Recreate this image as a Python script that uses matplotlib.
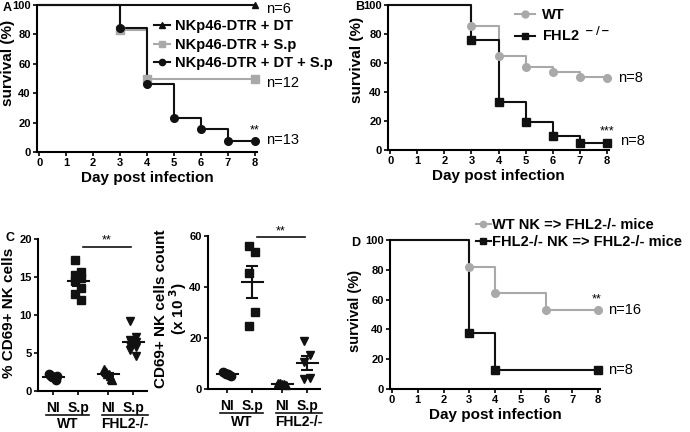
import matplotlib
matplotlib.use("Agg")
import numpy as np
import matplotlib.pyplot as plt
from matplotlib.lines import Line2D

plt.rcParams['font.family'] = ['Liberation Sans', 'DejaVu Sans']
plt.rcParams['font.weight'] = 'bold'

GRAY = "#a9a9a9"
BLACK = "#111111"

# ---- data ----
days = [0, 1, 2, 3, 4, 5, 6, 7, 8]

# panel A
a_dt_days = [0, 8]
a_dt_surv = [100, 100]
a_sp_days = [0, 3, 4, 8]
a_sp_surv = [100, 83.3, 50, 50]
a_dtsp_days = [0, 3, 4, 5, 6, 7, 8]
a_dtsp_surv = [100, 84.6, 46.2, 23.1, 15.4, 7.7, 7.7]

# panel B
b_wt_days = [0, 3, 4, 5, 6, 7, 8]
b_wt_surv = [100, 85.7, 64.5, 57, 53.5, 50.5, 50]
b_ko_days = [0, 3, 4, 5, 6, 7, 8]
b_ko_surv = [100, 76, 33, 19, 9.5, 5, 5]

# panel D
d_wt_days = [0, 3, 4, 6, 8]
d_wt_surv = [100, 82, 64.5, 53, 53]
d_ko_days = [0, 3, 4, 8]
d_ko_surv = [100, 37.5, 12.5, 12.5]

# panel C
c_groups = ["NI", "S.p", "NI", "S.p"]
c_pos = [0, 1, 2.2, 3.2]
c_markers = ["o", "s", "^", "v"]
c_pct = [
    [2.2, 2.1, 2.0, 1.9, 1.8, 1.7, 1.5, 2.0],
    [17.2, 15.7, 15.3, 14.9, 14.5, 13.5, 12.7, 12.0],
    [2.9, 2.6, 2.5, 2.3, 2.2, 2.0, 1.6, 1.4],
    [9.2, 7.1, 6.7, 6.4, 6.1, 5.8, 5.4, 4.6],
]
c_count = [
    [6.5, 6.2, 6.0, 5.8, 5.5, 5.2],
    [56, 53.8, 45.5, 30.3, 24.8],
    [2.5, 2.2, 2.0, 1.8, 1.6],
    [18.8, 13.5, 10.5, 4.3, 4.0],
]

W, H = 690, 432
fig = plt.figure(figsize=(6.9, 4.32), dpi=100)


def ax_px(left, top, right, bottom):
    ax = fig.add_axes([left / W, 1 - bottom / H, (right - left) / W, (bottom - top) / H])
    ax._px = (left, top, right, bottom)
    return ax


def ylabel_px(ax, text, x_right, y_center, size=11, **kw):
    left, top, right, bottom = ax._px
    ax.set_ylabel(text, fontsize=size, fontweight="bold", **kw)
    ax.yaxis.set_label_coords((x_right - left) / (right - left),
                              (bottom - y_center) / (bottom - top))


def style(ax):
    for s in ["top", "right"]:
        ax.spines[s].set_visible(False)
    for s in ["left", "bottom"]:
        ax.spines[s].set_linewidth(1.5)
    ax.tick_params(direction="out", length=3, width=1.2, labelsize=8, pad=1.5)
    for lab in ax.get_xticklabels() + ax.get_yticklabels():
        lab.set_fontweight("bold")


def survival(ax, x, y, color, marker, ms=5.5, zline=2):
    ax.step(x, y, where="post", color=color, lw=1.5, zorder=zline, clip_on=False)
    ax.plot(x[1:], y[1:], ls="none", marker=marker, color=color, ms=ms,
            zorder=zline + 5, clip_on=False)


def surv_axes(ax, xl_size=11):
    ax.set_xlim(-0.08, 8.08)
    ax.set_ylim(0, 100)
    ax.set_xticks(days)
    ax.set_yticks([0, 20, 40, 60, 80, 100])
    ax.set_xlabel("Day post infection", fontsize=xl_size, fontweight="bold", labelpad=2)
    style(ax)


# ---- Panel A ----
axA = ax_px(37, 5, 257, 152)
survival(axA, a_sp_days, a_sp_surv, GRAY, "s", zline=2)
survival(axA, a_dtsp_days, a_dtsp_surv, BLACK, "o", zline=3)
axA.step(a_dt_days, a_dt_surv, where="post", color=BLACK, lw=1.5, zorder=4, clip_on=False)
axA.plot([8], [100], ls="none", marker="^", color=BLACK, ms=5, zorder=9, clip_on=False)
surv_axes(axA)
ylabel_px(axA, "survival (%)", 15, 63)
axA.text(8.4, 97, "n=6", fontsize=10.5, fontweight="normal", va="center")
axA.text(8.4, 47, "n=12", fontsize=10.5, fontweight="normal", va="center")
axA.text(8.4, 8, "n=13", fontsize=10.5, fontweight="normal", va="center")
axA.text(8.0, 15, "**", fontsize=9, fontweight="normal", ha="center", va="center")
fig.text(3 / W, 1 - 8 / H, "A", fontsize=9, fontweight="bold", va="center")
hA = [Line2D([], [], color=BLACK, marker="^", ms=4.5, lw=1.5),
      Line2D([], [], color=GRAY, marker="s", ms=4.5, lw=1.5),
      Line2D([], [], color=BLACK, marker="o", ms=4.5, lw=1.5)]
fig.legend(hA, ["NKp46-DTR + DT", "NKp46-DTR + S.p", "NKp46-DTR + DT + S.p"],
           loc="upper left", bbox_to_anchor=(154 / W, 1 - 19 / H), frameon=False,
           prop={"size": 10.5, "weight": "bold"}, handlelength=1.1, handletextpad=0.35,
           labelspacing=0.32, borderaxespad=0, borderpad=0)

# ---- Panel B ----
axB = ax_px(388, 5, 609, 150)
survival(axB, b_wt_days, b_wt_surv, GRAY, "o", zline=2)
survival(axB, b_ko_days, b_ko_surv, BLACK, "s", zline=3)
surv_axes(axB)
ylabel_px(axB, "survival (%)", 364, 60)
axB.text(8.4, 50, "n=8", fontsize=10.5, fontweight="normal", va="center")
axB.text(8.5, 6, "n=8", fontsize=10.5, fontweight="normal", va="center")
axB.text(8.0, 13, "***", fontsize=9, fontweight="normal", ha="center", va="center")
fig.text(355 / W, 1 - 7 / H, "B", fontsize=9, fontweight="bold", va="center")
hB = [Line2D([], [], color=GRAY, marker="o", ms=5, lw=1.5),
      Line2D([], [], color=BLACK, marker="s", ms=5, lw=1.5)]
fig.legend(hB, ["WT", "FHL2$^{\\ -/-}$"],
           loc="upper left", bbox_to_anchor=(515 / W, 1 - 8 / H), frameon=False,
           prop={"size": 10.5, "weight": "bold"}, handlelength=1.4, handletextpad=0.45,
           labelspacing=0.25, borderaxespad=0, borderpad=0)

# ---- Panel D ----
axD = ax_px(390, 240, 600, 389)
survival(axD, d_wt_days, d_wt_surv, GRAY, "o", zline=2)
survival(axD, d_ko_days, d_ko_surv, BLACK, "s", zline=3)
surv_axes(axD)
ylabel_px(axD, "survival (%)", 362, 311, size=10.5)
axD.text(8.4, 53, "n=16", fontsize=10.5, fontweight="normal", va="center")
axD.text(8.4, 12.5, "n=8", fontsize=10.5, fontweight="normal", va="center")
axD.text(7.95, 60, "**", fontsize=9, fontweight="normal", ha="center", va="center")
fig.text(351 / W, 1 - 243 / H, "D", fontsize=9, fontweight="bold", va="center")
hD = [Line2D([], [], color=GRAY, marker="o", ms=4.5, lw=1.5),
      Line2D([], [], color=BLACK, marker="s", ms=4.5, lw=1.5)]
fig.legend(hD, ["WT NK => FHL2-/- mice", "FHL2-/- NK => FHL2-/- mice"],
           loc="upper left", bbox_to_anchor=(476 / W, 1 - 218 / H), frameon=False,
           prop={"size": 10.5, "weight": "bold"}, handlelength=1.0, handletextpad=0.1,
           labelspacing=0.2, borderaxespad=0, borderpad=0)


# ---- Panel C ----
def scatter_panel(ax, data, ylim, yticks, sig_y):
    for p, vals, m in zip(c_pos, data, c_markers):
        vals = np.array(vals)
        n = len(vals)
        if m in ("o", "^"):
            offs = np.linspace(-0.16, 0.16, n)
        else:
            offs = np.tile([-0.12, 0.12], n)[:n]
        ax.plot(p + offs, vals, ls="none", marker=m, color=BLACK, ms=6, clip_on=False, zorder=3)
        mean = vals.mean()
        sem = vals.std(ddof=1) / np.sqrt(n)
        ax.plot([p - 0.42, p + 0.42], [mean, mean], color=BLACK, lw=1.5, zorder=4)
        ax.errorbar([p], [mean], yerr=[sem], color=BLACK, lw=1.5, capsize=4, capthick=1.5, zorder=4)
    ax.set_ylim(*ylim)
    ax.set_yticks(yticks)
    ax.set_xticks(c_pos)
    ax.set_xticklabels(c_groups)
    style(ax)
    ax.tick_params(axis="x", labelsize=10, pad=4)
    for lab in ax.get_xticklabels():
        lab.set_fontweight("bold")
    ax.plot([1.2, 3.1], [sig_y, sig_y], color=BLACK, lw=1.2, clip_on=False)
    ax.text(2.15, sig_y, "**", fontsize=9, fontweight="normal", ha="center", va="bottom")
    tr = ax.get_xaxis_transform()
    for a, b, name in [(-0.3, 1.45, "WT"), (1.95, 3.8, "FHL2-/-")]:
        ax.plot([a, b], [-0.155, -0.155], color=BLACK, lw=1.2, transform=tr, clip_on=False)
        ax.text((a + b) / 2, -0.215, name, fontsize=10, fontweight="bold",
                ha="center", va="center", transform=tr)


axC1 = ax_px(38, 239, 147, 391)
axC1.set_xlim(-0.6, 3.76)
scatter_panel(axC1, c_pct, (0, 20), [0, 5, 10, 15, 20], 19)
ylabel_px(axC1, "% CD69+ NK cells", 16, 313)
fig.text(5 / W, 1 - 238 / H, "C", fontsize=9, fontweight="bold", va="center")

axC2 = ax_px(208, 236, 320, 389)
axC2.set_xlim(-0.76, 3.72)
scatter_panel(axC2, c_count, (0, 60), [0, 20, 40, 60], 59.6)
ylabel_px(axC2, "CD69+ NK cells count\n(x 10$^{\\ 3}$)", 189, 309, linespacing=0.95)

fig.savefig("out.png", dpi=100)
